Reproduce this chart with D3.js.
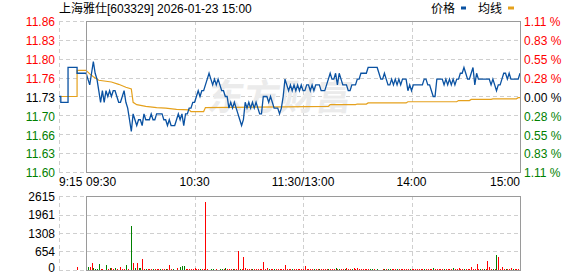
<!DOCTYPE html>
<html lang="zh">
<head>
<meta charset="UTF-8">
<script src="https://d3js.org/d3.v7.min.js"></script>
<title>上海雅仕 分时</title>
<style>
    body { margin: 0; background: #fff; }
    svg text { font-family: "Liberation Sans", Arial, "Noto Sans CJK SC", sans-serif; font-size: 12px; }
</style>
</head>
<body>
<svg id="chart" width="578" height="276"></svg>
<script>
    var prevClose = 11.73;
    // call auction 9:15-9:30 (minutes relative to 9:30)
    var preTimes = [-15, -14, -10, -5, 0];
    var prePrices = [11.73, 11.72, 11.78, 11.77, 11.77];
    var preAvgTimes = [-15, -5, 0];
    var preAvg = [11.73, 11.775, 11.775];
    var preVolTimes = [-5];
    var preVolumes = [118];

    // one price per minute, 9:30 .. 11:30/13:00 .. 15:00
    var prices = [
        11.77, 11.76, 11.75, 11.77, 11.79, 11.77, 11.76, 11.74, 11.72, 11.74,
        11.72, 11.74, 11.73, 11.74, 11.73, 11.74, 11.74, 11.73, 11.72, 11.72,
        11.73, 11.74, 11.72, 11.71, 11.69, 11.67, 11.70, 11.69, 11.68, 11.69,
        11.69, 11.68, 11.70, 11.69, 11.69, 11.69, 11.70, 11.69, 11.69, 11.70,
        11.70, 11.70, 11.70, 11.69, 11.69, 11.68, 11.69, 11.68, 11.68, 11.68,
        11.69, 11.70, 11.69, 11.70, 11.68, 11.70, 11.70, 11.71, 11.71, 11.72,
        11.72, 11.73, 11.74, 11.73, 11.74, 11.74, 11.75, 11.76, 11.77, 11.76,
        11.75, 11.76, 11.75, 11.76, 11.75, 11.74, 11.74, 11.73, 11.73, 11.71,
        11.72, 11.71, 11.72, 11.71, 11.70, 11.69, 11.68, 11.69, 11.72, 11.71,
        11.72, 11.71, 11.72, 11.71, 11.72, 11.71, 11.70, 11.70, 11.73, 11.73,
        11.73, 11.72, 11.73, 11.72, 11.71, 11.71, 11.71, 11.70, 11.71, 11.73,
        11.76, 11.75, 11.74, 11.75, 11.74, 11.75, 11.74, 11.75, 11.74, 11.75,
        11.74, 11.74, 11.75, 11.75, 11.74, 11.75, 11.74, 11.75, 11.75, 11.75,
        11.74, 11.74, 11.74, 11.75, 11.76, 11.77, 11.76, 11.76, 11.77, 11.75,
        11.77, 11.76, 11.75, 11.75, 11.75, 11.74, 11.74, 11.75, 11.75, 11.75,
        11.76, 11.76, 11.77, 11.77, 11.77, 11.77, 11.78, 11.78, 11.78, 11.78,
        11.78, 11.78, 11.77, 11.76, 11.76, 11.77, 11.76, 11.75, 11.75, 11.76,
        11.75, 11.76, 11.75, 11.76, 11.75, 11.76, 11.76, 11.76, 11.74, 11.75,
        11.74, 11.75, 11.75, 11.75, 11.75, 11.75, 11.75, 11.76, 11.76, 11.75,
        11.75, 11.74, 11.73, 11.73, 11.76, 11.76, 11.76, 11.76, 11.75, 11.76,
        11.75, 11.76, 11.75, 11.76, 11.75, 11.76, 11.76, 11.77, 11.77, 11.78,
        11.77, 11.76, 11.76, 11.77, 11.78, 11.75, 11.77, 11.76, 11.76, 11.76,
        11.76, 11.76, 11.76, 11.76, 11.75, 11.76, 11.75, 11.74, 11.75, 11.75,
        11.76, 11.77, 11.77, 11.76, 11.77, 11.76, 11.76, 11.76, 11.76, 11.76,
        11.77
    ];

    // average price line, read at its steps
    var avgTimes = [0, 2, 4, 7, 14, 18, 22, 25, 26, 28, 33, 39, 44, 50, 57, 58, 65, 66, 110, 134,
        135, 149, 150, 155, 156, 177, 178, 205, 206, 212, 213, 224, 225, 238, 239, 240];
    var avgValues = [11.775, 11.769, 11.764, 11.758, 11.755, 11.751, 11.746, 11.743, 11.72, 11.716,
        11.713, 11.711, 11.710, 11.708, 11.707, 11.704, 11.704, 11.711, 11.712, 11.713,
        11.716, 11.716, 11.717, 11.717, 11.719, 11.719, 11.721, 11.721, 11.723, 11.723,
        11.725, 11.725, 11.726, 11.726, 11.728, 11.728];

    // volume per minute, negative = down (green)
    var volumes = [
        -294, -106, 106, 247, -82, -35, -35, -212, 35, 35,
        0, -176, 35, -70, 82, 35, -82, 35, 0, 106,
        35, 35, -176, 35, 0, -1553, 247, -70, 247, -70,
        -82, 388, 35, -35, 35, 35, 35, -35, 35, 35,
        35, -35, 35, 35, -35, 35, 176, 35, -35, 0,
        82, 0, -106, -141, -141, 35, 35, 35, 35, 35,
        82, 35, 35, -35, 35, 35, 2413, 35, 0, -35,
        -35, 0, 35, 0, -35, -35, 35, -82, 35, 35,
        35, -35, 35, 35, 671, -35, 35, 459, 82, 35,
        35, 35, -35, 35, 35, 35, 35, 35, 282, 35,
        82, -35, 35, 35, -35, 35, 35, 35, 35, 35,
        176, 35, 35, 35, -35, 35, 35, 35, 35, 35,
        35, 153, 35, 35, 35, 35, -35, 35, 35, -35,
        35, 35, 35, 35, -35, 35, 35, 35, -82, 35,
        -35, 35, 35, -35, 82, 35, 35, -35, 82, 35,
        82, 35, 35, 35, 35, 35, 35, -35, -35, 35,
        0, -35, 0, 0, 35, -35, 35, -35, -35, 35,
        35, 35, -35, 35, 35, 35, 35, 35, 35, -35,
        35, 35, 35, 35, 35, 35, 35, -35, 35, 35,
        35, 35, -82, 35, 35, 35, 35, 35, -35, 35,
        35, 35, 35, -82, 35, 35, 82, 35, 35, -35,
        35, 35, 35, 118, 35, 35, 224, 35, -35, 35,
        -35, 35, 329, 118, 35, -35, 35, -529, 459, 35,
        106, 35, -35, 35, 35, 70, -35, 35, 35, 35,
        364
    ];

    var priceTicks = [11.60, 11.6325, 11.665, 11.6975, 11.73, 11.7625, 11.795, 11.8275, 11.86];
    var priceLabels = ["11.60", "11.63", "11.66", "11.70", "11.73", "11.76", "11.80", "11.83", "11.86"];
    var pctLabels = ["1.11 %", "0.83 %", "0.55 %", "0.28 %", "0.00 %", "0.28 %", "0.55 %", "0.83 %", "1.11 %"];
    var volTicks = [0, 654, 1308, 1961, 2615];
    var volLabels = ["0", "654", "1308", "1961", "2615"];
    var timeTicks = [-15, 0, 60, 120, 180, 240];
    var timeLabels = ["9:15", "09:30", "10:30", "11:30/13:00", "14:00", "15:00"];
    var gridTimes = [-15, 60, 120, 180];

    var svg = d3.select("#chart");
    var x = d3.scaleLinear().domain([-15, 240]).range([59, 520]);
    var y = d3.scaleLinear().domain([11.60, 11.86]).range([172, 21]);
    var yv = d3.scaleLinear().domain([0, 2615]).range([270, 196]);

    function tickColor(v) {
        if (Math.abs(v - prevClose) < 1e-6) return "#000";
        return v > prevClose ? "#f00" : "#008000";
    }
    function crisp(v) { return Math.round(v) + 0.5; }

    // grid
    var grid = svg.append("g")
        .attr("stroke", "#cfcfcf")
        .attr("stroke-dasharray", "4,3");
    grid.selectAll(".hp").data(priceTicks).enter().append("line")
        .attr("x1", x(-15)).attr("x2", x(240))
        .attr("y1", function(d){ return crisp(y(d)); })
        .attr("y2", function(d){ return crisp(y(d)); });
    grid.selectAll(".hv").data(volTicks).enter().append("line")
        .attr("x1", x(-15)).attr("x2", x(240))
        .attr("y1", function(d){ return crisp(yv(d)); })
        .attr("y2", function(d){ return crisp(yv(d)); });
    grid.selectAll(".vp").data(gridTimes).enter().append("line")
        .attr("x1", function(d){ return crisp(x(d)); })
        .attr("x2", function(d){ return crisp(x(d)); })
        .attr("y1", y(11.86)).attr("y2", y(11.60));
    grid.selectAll(".vv").data(gridTimes).enter().append("line")
        .attr("x1", function(d){ return crisp(x(d)); })
        .attr("x2", function(d){ return crisp(x(d)); })
        .attr("y1", yv(2615)).attr("y2", yv(0));

    // watermark
    svg.append("text")
        .attr("x", 222).attr("y", 110)
        .attr("transform", "skewX(-8)")
        .style("font-family", "Noto Sans CJK SC")
        .style("font-size", "36px")
        .style("font-weight", "bold")
        .attr("fill", "#ebebeb")
        .text("东方财富");

    // volume bars
    var bars = volumes.map(function(v, i){ return [i, v]; })
        .concat(preVolTimes.map(function(t, i){ return [t, preVolumes[i]]; }))
        .filter(function(d){ return d[1] !== 0; });
    svg.append("g").attr("shape-rendering", "crispEdges")
        .selectAll("rect").data(bars).enter().append("rect")
        .attr("x", function(d){ return Math.round(x(d[0])); })
        .attr("width", 1)
        .attr("y", function(d){ return Math.round(yv(Math.abs(d[1]))); })
        .attr("height", function(d){ return Math.max(1, 270 - Math.round(yv(Math.abs(d[1])))); })
        .attr("fill", function(d){ return d[1] > 0 ? "#ff0000" : "#008000"; });

    // lines
    var line = d3.line().x(function(d){ return x(d[0]); }).y(function(d){ return y(d[1]); });
    var stepLine = d3.line().curve(d3.curveStepAfter)
        .x(function(d){ return x(d[0]); }).y(function(d){ return y(d[1]); });

    svg.append("path")
        .attr("d", stepLine(preAvgTimes.map(function(t, i){ return [t, preAvg[i]]; })))
        .attr("fill", "none").attr("stroke", "#e5a11c").attr("stroke-width", 1.2);
    svg.append("path")
        .attr("d", line(avgTimes.map(function(t, i){ return [t, avgValues[i]]; })))
        .attr("fill", "none").attr("stroke", "#e5a11c").attr("stroke-width", 1.2);
    svg.append("path")
        .attr("d", stepLine(preTimes.map(function(t, i){ return [t, prePrices[i]]; })))
        .attr("fill", "none").attr("stroke", "#0a52a2").attr("stroke-width", 1.3);
    svg.append("path")
        .attr("d", line(prices.map(function(p, i){ return [i, p]; })))
        .attr("fill", "none").attr("stroke", "#0a52a2").attr("stroke-width", 1.3);

    // frames
    svg.append("rect")
        .attr("x", crisp(x(0))).attr("y", crisp(y(11.86)))
        .attr("width", Math.round(x(240) - x(0))).attr("height", Math.round(y(11.60) - y(11.86)))
        .attr("fill", "none").attr("stroke", "#9a9a9a");
    svg.append("rect")
        .attr("x", crisp(x(0))).attr("y", crisp(yv(2615)))
        .attr("width", Math.round(x(240) - x(0))).attr("height", Math.round(yv(0) - yv(2615)))
        .attr("fill", "none").attr("stroke", "#9a9a9a");

    // axes
    svg.append("g").attr("transform", "translate(55,0)")
        .call(d3.axisLeft(y).tickValues(priceTicks).tickSize(0).tickPadding(0)
            .tickFormat(function(d, i){ return priceLabels[i]; }))
        .call(function(g){ g.select(".domain").remove(); })
        .selectAll("text").attr("dy", "0.4em")
        .attr("fill", function(d){ return tickColor(d); });
    svg.append("g").attr("transform", "translate(524,0)")
        .call(d3.axisRight(y).tickValues(priceTicks).tickSize(0).tickPadding(0)
            .tickFormat(function(d, i){ return pctLabels[i]; }))
        .call(function(g){ g.select(".domain").remove(); })
        .selectAll("text").attr("dy", "0.4em")
        .attr("fill", function(d){ return tickColor(d); });
    svg.append("g").attr("transform", "translate(55,0)")
        .call(d3.axisLeft(yv).tickValues(volTicks).tickSize(0).tickPadding(0)
            .tickFormat(function(d, i){ return volLabels[i]; }))
        .call(function(g){ g.select(".domain").remove(); })
        .selectAll("text")
        .attr("dy", function(d){ return d === 0 ? "0.1em" : "0.35em"; })
        .attr("fill", "#000");

    svg.selectAll(".tl").data(timeTicks).enter().append("text")
        .attr("x", function(d){ return x(d); })
        .attr("y", 186)
        .attr("fill", "#000")
        .attr("text-anchor", function(d, i){
            if (i < 2) return "start";
            return i === timeTicks.length - 1 ? "end" : "middle";
        })
        .text(function(d, i){ return timeLabels[i]; });

    // title and legend
    svg.append("text").attr("x", 59).attr("y", 13).attr("fill", "#000")
        .text("上海雅仕[603329] 2026-01-23 15:00");
    svg.append("text").attr("x", 431).attr("y", 13).attr("fill", "#000").text("价格");
    svg.append("rect").attr("x", 461).attr("y", 6.5).attr("width", 5).attr("height", 3).attr("fill", "#0a52a2");
    svg.append("text").attr("x", 478).attr("y", 13).attr("fill", "#000").text("均线");
    svg.append("rect").attr("x", 508).attr("y", 6.5).attr("width", 6).attr("height", 3).attr("fill", "#e5a11c");
</script>
</body>
</html>
